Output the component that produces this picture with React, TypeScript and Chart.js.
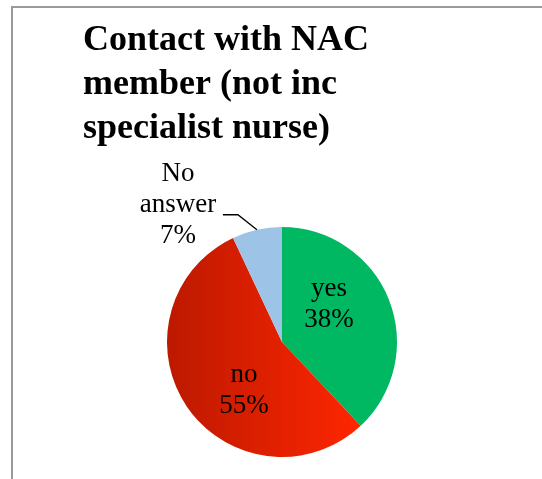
import React, { useEffect, useRef } from 'react';
import { Chart, registerables } from 'chart.js';

Chart.register(...registerables);

const categories = ['yes', 'no', 'No answer'];
const values = [38, 55, 7];
const percentLabels = ['38%', '55%', '7%'];
const titleLines = ['Contact with NAC', 'member (not inc', 'specialist nurse)'];

const GREEN = '#00B862';
const BLUE = '#9DC3E6';
const RED_DARK = '#BC1900';
const RED_LIGHT = '#FF2600';
const SERIF = '"Liberation Serif", "Times New Roman", serif';

const labelPlugin = {
  id: 'sliceLabels',
  afterDatasetsDraw(chart: any) {
    const ctx = chart.ctx;
    const meta = chart.getDatasetMeta(0);
    ctx.save();
    ctx.font = `27px ${SERIF}`;
    ctx.fillStyle = '#000';
    ctx.textAlign = 'center';
    ctx.textBaseline = 'middle';
    const pitch = 31;
    meta.data.forEach((arc: any, i: number) => {
      const lines = [...categories[i].split(' '), percentLabels[i]];
      if (i < 2) {
        const p = arc.tooltipPosition();
        const nudge = i === 0 ? [-6.5, -16.5] : [9.5, 16];
        const cx = p.x + nudge[0];
        const cy = p.y + nudge[1];
        lines.forEach((t, k) => {
          ctx.fillText(t, cx, cy + (k - (lines.length - 1) / 2) * pitch);
        });
      } else {
        const mid = (arc.startAngle + arc.endAngle) / 2;
        const px = arc.x + Math.cos(mid) * arc.outerRadius;
        const py = arc.y + Math.sin(mid) * arc.outerRadius;
        const ex = px - 19;
        const ey = py - 15;
        const lx = ex - 15;
        ctx.beginPath();
        ctx.strokeStyle = '#000';
        ctx.lineWidth = 1.3;
        ctx.moveTo(px, py);
        ctx.lineTo(ex, ey);
        ctx.lineTo(lx, ey);
        ctx.stroke();
        const tx = lx - 45;
        const ty = ey - 10;
        lines.forEach((t, k) => {
          ctx.fillText(t, tx, ty + (k - 1) * pitch);
        });
      }
    });
    ctx.restore();
  },
};

export default function App() {
  const ref = useRef<HTMLCanvasElement | null>(null);

  useEffect(() => {
    document.body.style.margin = '0';
    const canvas = ref.current;
    if (!canvas) return;
    const chart = new Chart(canvas, {
      type: 'pie',
      data: {
        labels: categories,
        datasets: [
          {
            data: values,
            borderWidth: 0,
            backgroundColor: (c: any) => {
              if (c.dataIndex === 0) return GREEN;
              if (c.dataIndex === 2) return BLUE;
              const ch = c.chart;
              const ca = ch.chartArea;
              if (!ca) return '#E82000';
              const cx = (ca.left + ca.right) / 2;
              const r = Math.min(ca.right - ca.left, ca.bottom - ca.top) / 2;
              const g = ch.ctx.createLinearGradient(cx - r, 0, cx + r * 0.7, 0);
              g.addColorStop(0, RED_DARK);
              g.addColorStop(1, RED_LIGHT);
              return g;
            },
          },
        ],
      },
      options: {
        responsive: false,
        animation: false,
        layout: { padding: { left: 83, right: 61, top: 0, bottom: 22 } },
        plugins: {
          legend: { display: false },
          tooltip: { enabled: false },
          title: {
            display: true,
            text: titleLines,
            align: 'start',
            color: '#000',
            font: { family: SERIF, weight: 'bold', size: 36, lineHeight: 44 / 36 },
            padding: { top: 19, bottom: 76 },
          },
        },
      },
      plugins: [labelPlugin],
    } as any);
    return () => chart.destroy();
  }, []);

  return (
    <div style={{ position: 'relative', width: 542, height: 479, background: '#fff', overflow: 'hidden' }}>
      <canvas ref={ref} width={542} height={479} style={{ display: 'block' }} />
      <div
        style={{
          position: 'absolute',
          left: 11,
          top: 6,
          width: 600,
          height: 600,
          borderLeft: '2px solid #9a9a9a',
          borderTop: '2px solid #9a9a9a',
          pointerEvents: 'none',
        }}
      />
    </div>
  );
}
